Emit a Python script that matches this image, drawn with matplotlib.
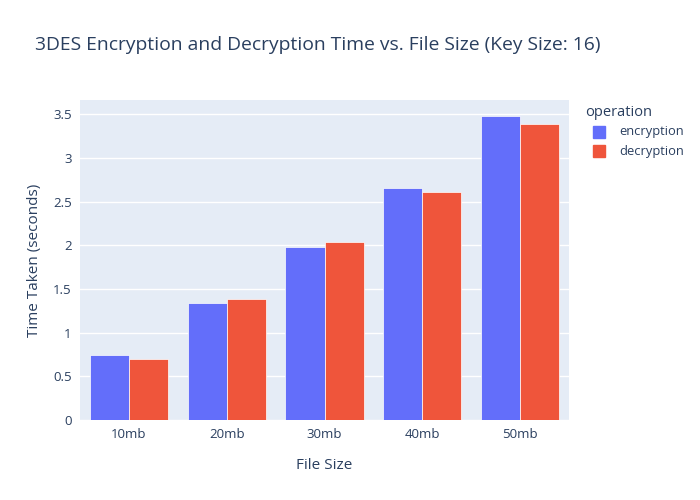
import numpy as np
import matplotlib
matplotlib.use("Agg")
import matplotlib.pyplot as plt
from matplotlib.patches import Rectangle

plt.rcParams['font.family'] = ['Open Sans', 'DejaVu Sans']

# data
sizes = ['10mb', '20mb', '30mb', '40mb', '50mb']
encryption = [0.74, 1.343, 1.985, 2.66, 3.481]
decryption = [0.70, 1.381, 2.035, 2.613, 3.386]

blue = '#636efa'
red = '#EF553B'
txt = '#2a3f5f'

fig = plt.figure(figsize=(7, 5), dpi=100)
ax = fig.add_axes([80/700, 80/500, 489/700, 320/500])
ax.set_facecolor('#E5ECF6')

x = np.arange(len(sizes))
w = 0.4
ax.bar(x - w/2, encryption, w, color=blue, edgecolor='white', linewidth=0.5, label='encryption', zorder=3)
ax.bar(x + w/2, decryption, w, color=red, edgecolor='white', linewidth=0.5, label='decryption', zorder=3)

ax.set_xlim(-0.5, len(sizes) - 0.5)
ax.set_ylim(0, 3.664)
ax.set_yticks(np.arange(0, 3.6, 0.5))
ax.set_yticklabels(['0', '0.5', '1', '1.5', '2', '2.5', '3', '3.5'])
ax.set_xticks(x)
ax.set_xticklabels(sizes)
ax.grid(axis='y', color='white', linewidth=1, zorder=0)
ax.tick_params(length=0, labelsize=9.5, colors=txt, pad=6)
for s in ax.spines.values():
    s.set_visible(False)

ax.set_xlabel('File Size', fontsize=11, color=txt, labelpad=12)
ax.set_ylabel('Time Taken (seconds)', fontsize=11, color=txt, labelpad=8)

fig.text(35/700, 1 - 45/500, '3DES Encryption and Decryption Time vs. File Size (Key Size: 16)',
         fontsize=13.9, color=txt, va='center', ha='left')

# legend drawn like plotly
fig.text(585/700, 1 - 113/500, 'operation', fontsize=10.5, color=txt, va='center', ha='left')
for i, (lab, col) in enumerate([('encryption', blue), ('decryption', red)]):
    yc = 132 + i * 19
    fig.patches.append(Rectangle((593/700, 1 - (yc + 6)/500), 12/700, 12/500,
                                 transform=fig.transFigure, color=col, figure=fig))
    fig.text(619/700, 1 - yc/500, lab, fontsize=9.3, color=txt, va='center', ha='left')

fig.savefig('out.png', dpi=100)
